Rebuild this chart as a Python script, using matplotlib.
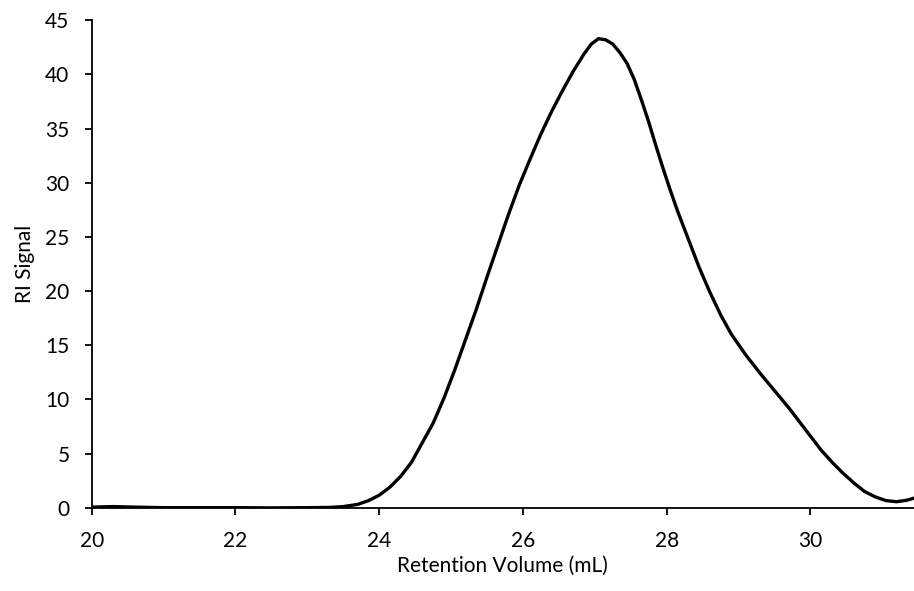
import matplotlib
matplotlib.use("Agg")
import matplotlib.pyplot as plt

plt.rcParams['font.family'] = ['Lato', 'DejaVu Sans']

# GPC trace: retention volume (mL) vs RI detector signal
volume = [20.0, 20.3, 20.6, 21.0, 21.5, 22.0, 22.5, 23.0, 23.3, 23.5,
          23.7, 23.85, 24.0, 24.15, 24.3, 24.45, 24.6, 24.75, 24.9, 25.05,
          25.2, 25.35, 25.5, 25.65, 25.8, 25.95, 26.1, 26.25, 26.4, 26.55,
          26.7, 26.85, 26.95, 27.05, 27.15, 27.25, 27.35, 27.45, 27.55, 27.65,
          27.75, 27.85, 27.95, 28.05, 28.15, 28.3, 28.45, 28.6, 28.75, 28.9,
          29.1, 29.3, 29.5, 29.7, 29.85, 30.0, 30.15, 30.3, 30.45, 30.6,
          30.75, 30.9, 31.05, 31.2, 31.35, 31.45]
signal = [0.05, 0.1, 0.05, 0.0, 0.0, 0.0, -0.02, 0.0, 0.02, 0.1,
          0.3, 0.65, 1.15, 1.9, 2.9, 4.2, 6.0, 7.8, 10.1, 12.7,
          15.5, 18.3, 21.3, 24.2, 27.1, 29.8, 32.2, 34.5, 36.6, 38.5,
          40.3, 41.9, 42.8, 43.3, 43.2, 42.8, 42.0, 41.0, 39.5, 37.6,
          35.6, 33.4, 31.3, 29.3, 27.4, 24.8, 22.2, 19.9, 17.8, 16.0,
          14.1, 12.4, 10.8, 9.2, 7.9, 6.6, 5.3, 4.2, 3.2, 2.3,
          1.5, 1.0, 0.65, 0.55, 0.7, 0.9]

fig = plt.figure(figsize=(9.14, 5.91), dpi=100)
fig.set_facecolor("white")
ax = fig.add_axes([0.1003, 0.141, 0.8997, 0.8247])

ax.plot(volume, signal, color="black", linewidth=2.4, zorder=3)

ax.set_xlim(20, 31.44)
ax.set_ylim(0, 45)
ax.set_xticks([20, 22, 24, 26, 28, 30])
ax.set_yticks(range(0, 46, 5))

ax.spines['top'].set_visible(False)
ax.spines['right'].set_visible(False)
for s in ['left', 'bottom']:
    ax.spines[s].set_linewidth(1.3)

ax.tick_params(axis='both', direction='out', length=5, width=1.3,
               labelsize=15, colors='black')
ax.tick_params(axis='y', pad=11)
ax.tick_params(axis='x', pad=12)

ax.set_xlabel("Retention Volume (mL)", fontsize=15, labelpad=3)
ax.set_ylabel("RI Signal", fontsize=15, labelpad=7)

plt.savefig("out.png", dpi=100, facecolor="white")
